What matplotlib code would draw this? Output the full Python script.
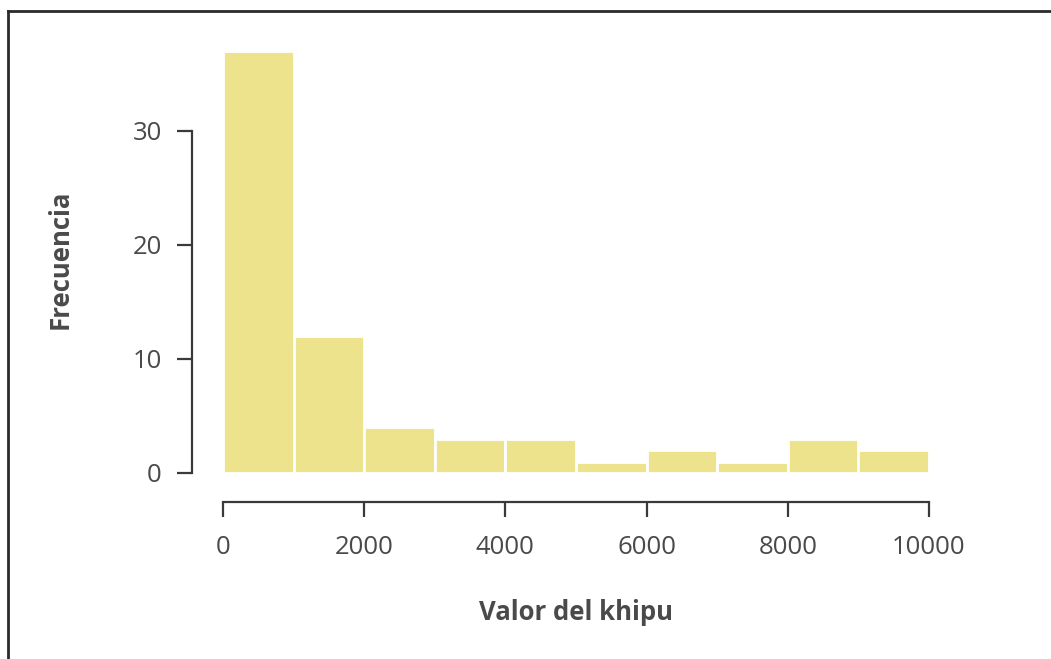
import numpy as np
import matplotlib as mpl
mpl.use('Agg')
import matplotlib.pyplot as plt
from matplotlib.lines import Line2D

# histogram of khipu values (bins of 1000)
bin_edges = [0, 1000, 2000, 3000, 4000, 5000, 6000, 7000, 8000, 9000, 10000]
counts = [37, 12, 4, 3, 3, 1, 2, 1, 3, 2]
xticks = [0, 2000, 4000, 6000, 8000, 10000]
yticks = [0, 10, 20, 30]
xlabel = 'Valor del khipu'
ylabel = 'Frecuencia'

W, H = 1051, 659
barcol = '#EEE38D'
txtcol = '#4a4a4a'
axcol = '#3a3a3a'
fs = 18.5
plt.rcParams['font.family'] = ['Open Sans', 'DejaVu Sans']

fig = plt.figure(figsize=(W/100, H/100), dpi=100)
# data area: x 0..10000 -> px 223..929 ; y 0 -> px 473, 11.4 px per unit
ymax = 37.5
ppu = 11.4
ax = fig.add_axes([223/W, (H-473)/H, 706/W, ymax*ppu/H])

lefts = np.array(bin_edges[:-1])
widths = np.diff(bin_edges)
ax.bar(lefts, counts, width=widths, align='edge', color=barcol,
       edgecolor='white', linewidth=2)

ax.set_xlim(0, 10000)
ax.set_ylim(0, ymax)
for s in ['top', 'right']:
    ax.spines[s].set_visible(False)
ax.spines['left'].set_position(('outward', 31*0.72))
ax.spines['bottom'].set_position(('outward', 29*0.72))
ax.spines['left'].set_bounds(0, 30)
ax.spines['bottom'].set_bounds(0, 10000)
for s in ['left', 'bottom']:
    ax.spines[s].set_color(axcol)
    ax.spines[s].set_linewidth(1.6)

ax.set_xticks(xticks)
ax.set_yticks(yticks)
ax.tick_params(axis='both', length=15*0.72, width=1.6, color=axcol,
               labelsize=fs, labelcolor=txtcol)
ax.tick_params(axis='x', pad=13)
ax.tick_params(axis='y', pad=11)
ax.set_xlabel(xlabel, fontsize=fs, fontweight='bold', color=txtcol, labelpad=28)
ax.set_ylabel(ylabel, fontsize=fs, fontweight='bold', color=txtcol, labelpad=42)

# frame lines of the scanned figure
fig.add_artist(Line2D([8/W, 8/W], [0, 1-11/H], color='#2a2a2a', lw=2))
fig.add_artist(Line2D([8/W, 1], [1-11/H, 1-11/H], color='#2a2a2a', lw=2))

plt.savefig('out.png', dpi=100)
